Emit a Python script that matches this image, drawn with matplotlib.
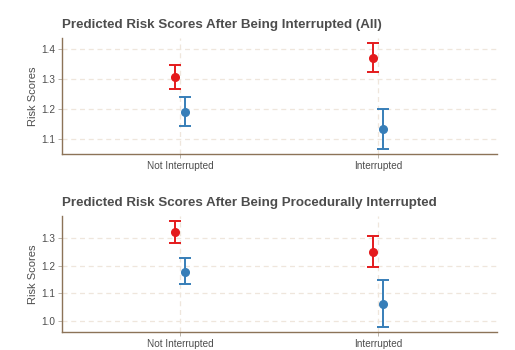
import numpy as np
import matplotlib.pyplot as plt

plt.rcParams["font.family"] = ["Liberation Sans", "DejaVu Sans"]

categories = ["Not Interrupted", "Interrupted"]

# panel 1: all interruptions
all_red = [1.306, 1.370]
all_red_lo = [1.266, 1.322]
all_red_hi = [1.347, 1.420]
all_blue = [1.188, 1.132]
all_blue_lo = [1.141, 1.067]
all_blue_hi = [1.238, 1.200]

# panel 2: procedural interruptions
proc_red = [1.323, 1.252]
proc_red_lo = [1.282, 1.195]
proc_red_hi = [1.364, 1.309]
proc_blue = [1.179, 1.060]
proc_blue_lo = [1.133, 0.978]
proc_blue_hi = [1.228, 1.147]

titles = [
    "Predicted Risk Scores After Being Interrupted (All)",
    "Predicted Risk Scores After Being Procedurally Interrupted",
]

RED = "#E41A1C"
BLUE = "#377EB8"
SPINE = "#8C7358"
GRID = "#EFE6DC"
TEXT = "#4D4D4D"

fig = plt.figure(figsize=(5.15, 3.5), dpi=100)
fig.patch.set_facecolor("white")
ax1 = fig.add_axes([0.1204, 0.560, 0.845, 0.331])
ax2 = fig.add_axes([0.1204, 0.052, 0.845, 0.331])

panels = [
    (ax1, all_red, all_red_lo, all_red_hi, all_blue, all_blue_lo, all_blue_hi,
     (1.049, 1.436), [1.1, 1.2, 1.3, 1.4]),
    (ax2, proc_red, proc_red_lo, proc_red_hi, proc_blue, proc_blue_lo, proc_blue_hi,
     (0.961, 1.381), [1.0, 1.1, 1.2, 1.3]),
]

x = np.arange(1, len(categories) + 1)
dodge = 0.025

for i, (ax, r, rlo, rhi, b, blo, bhi, ylim, yticks) in enumerate(panels):
    r, rlo, rhi = np.array(r), np.array(rlo), np.array(rhi)
    b, blo, bhi = np.array(b), np.array(blo), np.array(bhi)

    ax.errorbar(x - dodge, r, yerr=[r - rlo, rhi - r], fmt="o", color=RED,
                markersize=5.5, elinewidth=1.4, capsize=4.5, capthick=1.4, zorder=3)
    ax.errorbar(x + dodge, b, yerr=[b - blo, bhi - b], fmt="o", color=BLUE,
                markersize=5.5, elinewidth=1.4, capsize=4.5, capthick=1.4, zorder=3)

    ax.set_xlim(0.404, 2.6)
    ax.set_ylim(*ylim)
    ax.set_xticks(x)
    ax.set_xticklabels(categories)
    ax.set_yticks(yticks)
    ax.set_yticklabels([f"{t:.1f}" for t in yticks])

    ax.grid(True, linestyle=(0, (4, 3)), color=GRID, linewidth=0.9, zorder=0)
    ax.set_axisbelow(True)

    for side in ["top", "right"]:
        ax.spines[side].set_visible(False)
    for side in ["left", "bottom"]:
        ax.spines[side].set_color(SPINE)
        ax.spines[side].set_linewidth(1.0)

    ax.tick_params(axis="both", colors="#B0A89E", labelcolor=TEXT,
                   labelsize=7.2, length=3, width=0.6, pad=2)
    ax.set_ylabel("Risk Scores", fontsize=8, color=TEXT, labelpad=2)
    ax.set_title(titles[i], fontsize=9.6, fontweight="bold", color=TEXT,
                 loc="left", pad=7)

plt.savefig("out.png", dpi=100, facecolor=fig.get_facecolor())
